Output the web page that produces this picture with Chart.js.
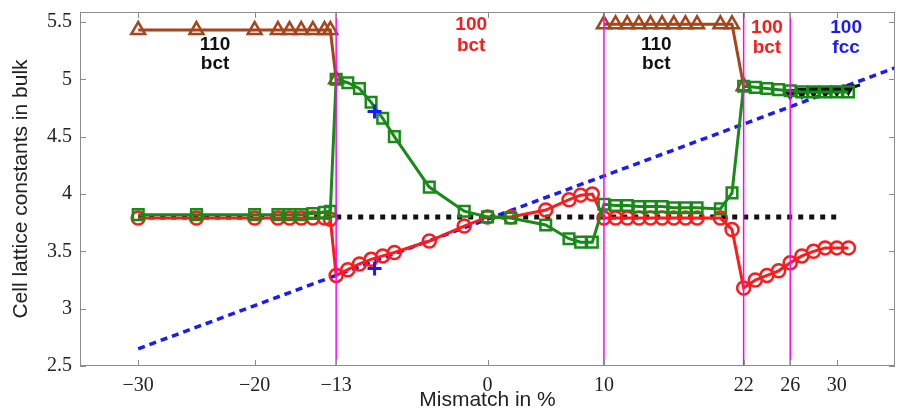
<!DOCTYPE html>
<html>
<head>
<meta charset="utf-8">
<script src="https://cdn.jsdelivr.net/npm/chart.js@4.4.1/dist/chart.umd.min.js"></script>
<style>
    html, body { margin: 0; padding: 0; background: #fff; }
</style>
</head>
<body>
<canvas id="lattice-chart" width="907" height="410"></canvas>
<script>
// values
var xTicks = [-30, -20, -13, 0, 10, 22, 26, 30];
var yTicks = [2.5, 3, 3.5, 4, 4.5, 5, 5.5];

var mismatch = [-30, -25, -20, -18, -17, -16, -15, -14, -13.5,
    -13, -12, -11, -10, -9, -8, -5, -2, 0, 2, 5, 7, 8, 9,
    10, 11, 12, 13, 14, 15, 16, 17, 18, 20, 21,
    22, 23, 24, 25, 26, 27, 28, 29, 30, 31];
var greenA = [3.82, 3.82, 3.82, 3.82, 3.82, 3.82, 3.83, 3.84, 3.85,
    5.0, 4.97, 4.92, 4.8, 4.66, 4.5, 4.06, 3.85, 3.8, 3.79, 3.73, 3.61, 3.58, 3.58,
    3.91, 3.9, 3.9, 3.89, 3.89, 3.89, 3.88, 3.88, 3.88, 3.87, 4.01,
    4.94, 4.93, 4.92, 4.91, 4.9, 4.89, 4.89, 4.89, 4.89, 4.89];
var redA = [3.79, 3.79, 3.79, 3.79, 3.79, 3.79, 3.79, 3.79, 3.78,
    3.29, 3.34, 3.39, 3.43, 3.46, 3.49, 3.59, 3.72, 3.8, 3.8, 3.86, 3.95, 3.99, 4.0,
    3.79, 3.79, 3.79, 3.79, 3.79, 3.79, 3.79, 3.79, 3.79, 3.79, 3.69,
    3.18, 3.25, 3.29, 3.33, 3.4, 3.46, 3.5, 3.53, 3.53, 3.53];

var brownLeftX = [-30, -25, -20, -18, -17, -16, -15, -14, -13.5, -13];
var brownLeftC = [5.43, 5.43, 5.43, 5.43, 5.43, 5.43, 5.43, 5.43, 5.43, 5.0];
var brownRightX = [10, 11, 12, 13, 14, 15, 16, 17, 18, 20, 21, 22];
var brownRightC = [5.48, 5.48, 5.48, 5.48, 5.48, 5.48, 5.48, 5.48, 5.48, 5.48, 5.48, 4.94];

var fccX = [26, 27, 28, 29, 30, 31, 32];
var fccA = [4.88, 4.89, 4.9, 4.9, 4.91, 4.92, 4.95];

var crossX = [-9.7, -9.7];
var crossY = [4.72, 3.35];

var vegardX = [-30, 35];
var vegardA = [2.65, 5.1];
var bulkX = [-30, 30];
var bulkA = [3.8, 3.8];

var phaseBounds = [-13, 10, 22, 26];
var phaseNames = [['110', 'bct'], ['100', 'bct'], ['110', 'bct'], ['100', 'bct'], ['100', 'fcc']];

var Y_MIN = 2.5, Y_MAX = 5.587;
var SERIF = '"Liberation Serif", "DejaVu Serif", serif';
var SANS = '"Liberation Sans", Arial, sans-serif';

function pts(xs, ys) {
    return xs.map(function(x, i) { return { x: x, y: ys[i] }; });
}

function minus(v) {
    return v < 0 ? '\u2212' + Math.abs(v) : String(v);
}

var LatticeChart = {

    init: function() {
        Chart.defaults.font.family = SANS;
        new Chart(document.getElementById('lattice-chart'), {
            type: 'scatter',
            data: { datasets: this.buildDatasets() },
            options: this.buildOptions(),
            plugins: [this.framePlugin]
        });
    },

    buildDatasets: function() {
        var sets = [];

        phaseBounds.forEach(function(b) {
            sets.push({
                data: pts([b, b], [Y_MIN, Y_MAX]),
                borderColor: '#ff00ff',
                borderWidth: 1.5,
                showLine: true,
                pointRadius: 0
            });
        });

        sets.push({
            data: pts(crossX, crossY),
            pointStyle: 'cross',
            pointRadius: 7,
            borderColor: '#1a1aff',
            borderWidth: 3,
            showLine: false
        });

        sets.push({
            data: pts(mismatch, greenA),
            borderColor: '#178a17',
            borderWidth: 3,
            showLine: true,
            pointStyle: 'rect',
            pointRadius: 7.5,
            pointBorderWidth: 2.5,
            pointBackgroundColor: 'rgba(0,0,0,0)'
        });

        sets.push({
            data: pts(mismatch, redA),
            borderColor: '#ff1a1a',
            borderWidth: 3,
            showLine: true,
            pointStyle: 'circle',
            pointRadius: 6.5,
            pointBorderWidth: 2.5,
            pointBackgroundColor: 'rgba(0,0,0,0)'
        });

        [[brownLeftX, brownLeftC], [brownRightX, brownRightC]].forEach(function(s) {
            sets.push({
                data: pts(s[0], s[1]),
                borderColor: '#a8431a',
                borderWidth: 3,
                showLine: true,
                pointStyle: 'triangle',
                pointRadius: 8,
                pointBorderWidth: 2.5,
                pointBackgroundColor: 'rgba(0,0,0,0)'
            });
        });

        sets.push({
            data: pts(fccX, fccA),
            borderColor: '#111',
            backgroundColor: '#111',
            borderWidth: 3,
            showLine: true,
            pointStyle: 'triangle',
            pointRotation: 180,
            pointRadius: [5, 5, 5, 5, 5, 5, 0]
        });

        sets.push({
            data: pts(bulkX, bulkA),
            borderColor: '#111',
            borderWidth: 5,
            borderDash: [5, 6],
            showLine: true,
            pointRadius: 0
        });

        sets.push({
            data: pts(vegardX, vegardA),
            borderColor: '#1a1aff',
            borderWidth: 3.5,
            borderDash: [7, 5],
            showLine: true,
            pointRadius: 0
        });

        return sets;
    },

    buildOptions: function() {
        return {
            responsive: false,
            animation: false,
            layout: { padding: { top: 10, right: 12, left: 0, bottom: 0 } },
            plugins: { legend: { display: false }, tooltip: { enabled: false } },
            scales: {
                x: {
                    type: 'linear',
                    min: -35,
                    max: 35,
                    afterBuildTicks: function(s) {
                        s.ticks = xTicks.map(function(v) { return { value: v }; });
                    },
                    afterFit: function(s) { s.height = 44; },
                    grid: { display: false },
                    border: { display: false },
                    ticks: {
                        callback: minus,
                        font: { family: SERIF, size: 20 },
                        color: '#222',
                        padding: 0,
                        maxRotation: 0,
                        autoSkip: false
                    },
                    title: {
                        display: true,
                        text: 'Mismatch in %',
                        font: { family: SANS, size: 21 },
                        color: '#222',
                        padding: { top: 0, bottom: -3 }
                    }
                },
                y: {
                    min: Y_MIN,
                    max: Y_MAX,
                    afterBuildTicks: function(s) {
                        s.ticks = yTicks.map(function(v) { return { value: v }; });
                    },
                    afterFit: function(s) { s.width = 80; },
                    grid: { display: false },
                    border: { display: false },
                    ticks: {
                        callback: function(v) { return String(v); },
                        font: { family: SERIF, size: 20 },
                        color: '#222',
                        padding: 0
                    },
                    title: {
                        display: true,
                        text: 'Cell lattice constants in bulk',
                        font: { family: SANS, size: 21 },
                        color: '#222',
                        padding: { top: 9, bottom: 0 }
                    }
                }
            }
        };
    },

    framePlugin: {
        id: 'frame',
        beforeDraw: function(chart) {
            var ctx = chart.ctx;
            ctx.save();
            ctx.fillStyle = '#fff';
            ctx.fillRect(0, 0, chart.width, chart.height);
            ctx.restore();
        },
        afterDraw: function(chart) {
            var ctx = chart.ctx;
            var a = chart.chartArea;
            var xs = chart.scales.x, ys = chart.scales.y;

            ctx.save();
            ctx.strokeStyle = '#8c8c8c';
            ctx.lineWidth = 1;
            ctx.strokeRect(a.left + 0.5, a.top + 0.5, a.right - a.left - 1, a.bottom - a.top - 1);
            ctx.beginPath();
            xTicks.forEach(function(v) {
                var p = Math.round(xs.getPixelForValue(v)) + 0.5;
                ctx.moveTo(p, a.bottom); ctx.lineTo(p, a.bottom - 6);
                ctx.moveTo(p, a.top); ctx.lineTo(p, a.top + 6);
            });
            yTicks.forEach(function(v) {
                var p = Math.round(ys.getPixelForValue(v)) + 0.5;
                ctx.moveTo(a.left, p); ctx.lineTo(a.left + 6, p);
                ctx.moveTo(a.right, p); ctx.lineTo(a.right - 6, p);
            });
            ctx.stroke();

            // phase labels: centre x and baseline of the two lines in data units
            var spots = [
                [-23.4, 5.257, 5.09, '#111'],
                [-1.4, 5.43, 5.245, '#ff1a1a'],
                [14.5, 5.257, 5.09, '#111'],
                [24.0, 5.40, 5.23, '#ff1a1a'],
                [30.8, 5.40, 5.23, '#1a1aff']
            ];
            ctx.font = 'bold 19px ' + SANS;
            ctx.textAlign = 'center';
            ctx.textBaseline = 'alphabetic';
            phaseNames.forEach(function(name, i) {
                var s = spots[i];
                var px = xs.getPixelForValue(s[0]);
                ctx.fillStyle = s[3];
                ctx.fillText(name[0], px, ys.getPixelForValue(s[1]));
                ctx.fillText(name[1], px, ys.getPixelForValue(s[2]));
            });
            ctx.restore();
        }
    }
};

LatticeChart.init();
</script>
</body>
</html>
